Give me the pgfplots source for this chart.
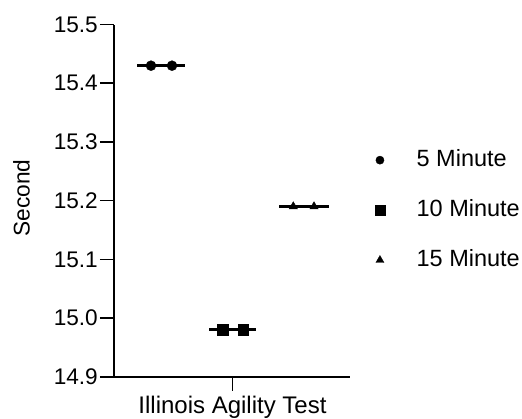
\documentclass[border=0pt]{standalone}
\usepackage{fontspec}
\setmainfont{Liberation Sans}
\usepackage{pgfplots}
\pgfplotsset{compat=1.18}
\begin{document}
\begin{tikzpicture}[font=\fontsize{23}{28}\selectfont]
\begin{axis}[
  scale only axis, width=236pt, height=352.1pt,
  xmin=-1.669, xmax=1.655, ymin=14.9, ymax=15.5,
  axis x line=bottom, axis y line=left,
  axis line style={-, line width=1.6pt, black},
  every tick/.style={black, line width=1.6pt},
  tick align=outside, major tick length=14pt,
  xtick={0}, xticklabels={Illinois Agility Test},
  ytick={14.9,15.0,15.1,15.2,15.3,15.4,15.5},
  yticklabel style={inner xsep=2pt, font=\fontsize{22.6}{27}\selectfont},
  xticklabel style={inner ysep=5pt, font=\fontsize{24}{29}\selectfont},
  /pgf/number format/fixed, /pgf/number format/fixed zerofill,
  /pgf/number format/precision=1, /pgf/number format/assume math mode=true,
  ylabel={Second},
  ylabel style={at={(axis description cs:-0.392,0.507)}, anchor=center, font=\fontsize{22.7}{27}\selectfont},
  legend cell align=left,
  legend image code/.code={\draw[#1] plot coordinates {(0pt,0pt)};},
  legend style={draw=none, fill=none, inner sep=0pt,
    at={(axis description cs:1.104,0.644)}, anchor=north west,
    row sep=30pt, column sep=31.5pt, font=\fontsize{23.5}{28}\selectfont,
    nodes={inner sep=0pt, text height=16pt, text depth=4pt}},
]
\addplot[black, line width=3pt, forget plot] coordinates {(-1.341,15.43) (-0.669,15.43)};
\addplot[only marks, mark=*, mark size=5pt, black, legend image post style={mark size=4.1pt}] coordinates {(-1.148,15.43) (-0.852,15.43)};
\addlegendentry{5 Minute}
\addplot[black, line width=3pt, forget plot] coordinates {(-0.329,14.98) (0.331,14.98)};
\addplot[only marks, mark=square*, mark size=5.3pt, black, legend image post style={mark size=5.2pt}] coordinates {(-0.137,14.98) (0.152,14.98)};
\addlegendentry{10 Minute}
\addplot[black, line width=3pt, forget plot] coordinates {(0.655,15.19) (1.359,15.19)};
\addplot[only marks, mark=triangle*, mark size=4.8pt, black, legend image post style={mark size=4.6pt}] coordinates {(0.856,15.19) (1.148,15.19)};
\addlegendentry{15 Minute}
\end{axis}
\pgfresetboundingbox
\path[use as bounding box] (-114pt,-41.3pt) rectangle (408pt,376.7pt);
\end{tikzpicture}
\end{document}
